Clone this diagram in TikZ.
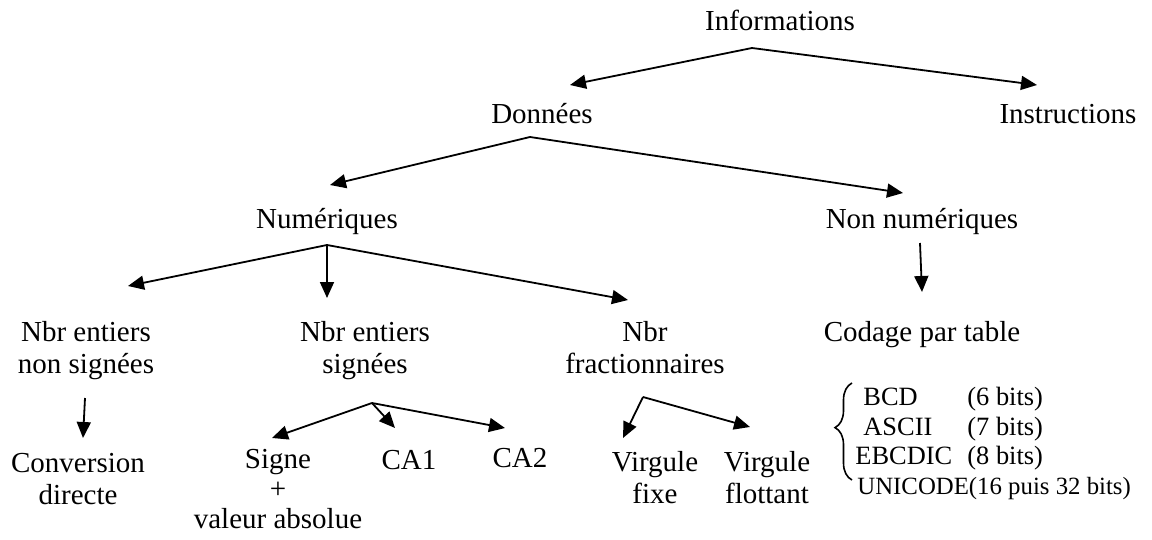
\documentclass[tikz,border=0pt]{standalone}
\usepackage{fontspec}
\setmainfont{Liberation Serif}
\usetikzlibrary{arrows.meta,decorations.pathreplacing}
\begin{document}
\begin{tikzpicture}[x=0.5pt,y=-0.5pt,
  lbl/.style={font=\fontsize{14.5}{16}\selectfont, inner sep=0pt, anchor=base, align=center},
  lst/.style={font=\fontsize{13.2}{15}\selectfont, inner sep=0pt, anchor=base west},
  arr/.style={line width=0.9pt, -{Triangle[length=8pt,width=7pt]}},
  brc/.style={line width=0.8pt, decorate, decoration={brace, amplitude=8.5pt, aspect=0.54}}]
\useasboundingbox (0,0) rectangle (1152,540);
% nodes (multi-line nodes are placed by the baseline of their last line)
\node[lbl] (info)   at (780,31)  {Informations};
\node[lbl] (donn)   at (542,124) {Données};
\node[lbl] (instr)  at (1068,124) {Instructions};
\node[lbl] (num)    at (327,228) {Numériques};
\node[lbl] (nonnum) at (922,228) {Non numériques};
\node[lbl] (nens)   at (86,373)  {Nbr entiers\\non signées};
\node[lbl] (nes)    at (365,373) {Nbr entiers\\signées};
\node[lbl] (nfr)    at (645,373) {Nbr\\fractionnaires};
\node[lbl] (codage) at (922,341) {Codage par table};
\node[lbl] (conv)   at (78,504)  {Conversion\\directe};
\node[lbl, font=\fontsize{14.5}{15}\selectfont] (signe) at (278,528) {Signe\\+\\valeur absolue};
\node[lbl] (ca1)    at (409,469) {CA1};
\node[lbl] (ca2)    at (520,467) {CA2};
\node[lbl] (vfix)   at (655,503) {Virgule\\fixe};
\node[lbl] (vflo)   at (767,503) {Virgule\\flottant};
% list
\node[lst] (bcd)    at (863,405) {BCD};
\node[lst] (bcdb)   at (967,405) {(6 bits)};
\node[lst] (ascii)  at (863,435) {ASCII};
\node[lst] (asciib) at (967,435) {(7 bits)};
\node[lst] (ebc)    at (855,464) {EBCDIC};
\node[lst] (ebcb)   at (967,464) {(8 bits)};
\node[lst, font=\fontsize{12.4}{15}\selectfont] (uni) at (857,494) {UNICODE(16 puis 32 bits)};
\draw[brc] (852,480) -- (852,383);
% connector points
\coordinate (iv)  at (752,48);
\coordinate (td)  at (570,85);
\coordinate (ti)  at (1037,85);
\coordinate (dv)  at (530,137);
\coordinate (tn)  at (330,185);
\coordinate (tnn) at (903,193);
\coordinate (nv)  at (327,245);
\coordinate (t1)  at (128,286);
\coordinate (t2)  at (327,298);
\coordinate (t3)  at (628,300);
\coordinate (ns)  at (920,243);
\coordinate (nt)  at (922,292);
\coordinate (cs)  at (85,398);
\coordinate (ct)  at (83,438);
\coordinate (sv)  at (372,403);
\coordinate (ts)  at (272,438);
\coordinate (tc1) at (395,428);
\coordinate (tc2) at (505,428);
\coordinate (fv)  at (643,397);
\coordinate (tf1) at (623,438);
\coordinate (tf2) at (750,427);
% connectors
\draw[arr] (iv) -- (td);
\draw[arr] (iv) -- (ti);
\draw[arr] (dv) -- (tn);
\draw[arr] (dv) -- (tnn);
\draw[arr] (nv) -- (t1);
\draw[arr] (nv) -- (t2);
\draw[arr] (nv) -- (t3);
\draw[arr] (ns) -- (nt);
\draw[arr] (cs) -- (ct);
\draw[arr] (sv) -- (ts);
\draw[arr] (sv) -- (tc1);
\draw[arr] (sv) -- (tc2);
\draw[arr] (fv) -- (tf1);
\draw[arr] (fv) -- (tf2);
\end{tikzpicture}
\end{document}
